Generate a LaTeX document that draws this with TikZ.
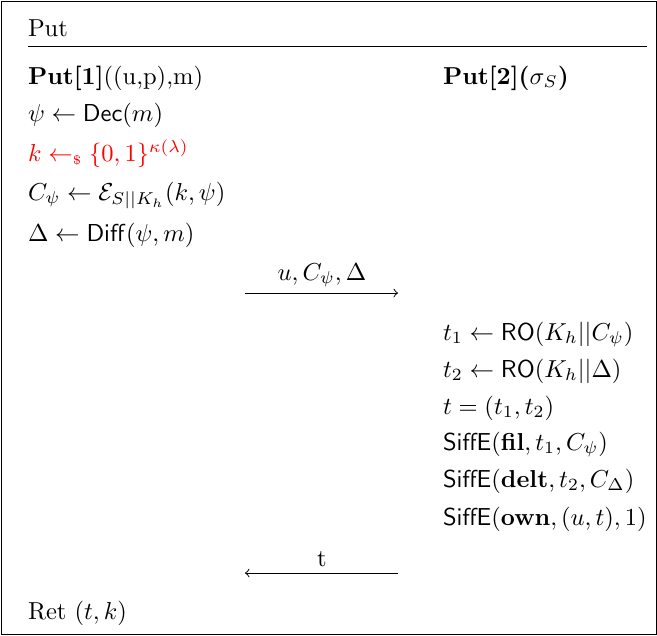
\documentclass[tikz,border=0pt]{standalone}
\usepackage{amsmath,amssymb}
\usepackage{xcolor}
\begin{document}
\begin{tikzpicture}[x=0.408pt,y=-0.408pt,
  txt/.style={anchor=base west,inner sep=0pt,outer sep=0pt},
  lbl/.style={anchor=base,inner sep=0pt,outer sep=0pt},
  msg/.style={-to,line width=0.4pt}]
\useasboundingbox (0,0) rectangle (657,635);
\draw[line width=0.4pt] (1,1) rectangle (656,634);
\node[txt] (title) at (28,36) {Put};
\coordinate (hl) at (28,46);
\coordinate (hr) at (647,46);
\draw[line width=0.4pt] (hl) -- (hr);
\node[txt] (a1) at (28,84) {\textbf{Put[1]}((u,p),m)};
\node[txt] (b1) at (443,84) {\textbf{Put[2](}$\sigma_S$\textbf{)}};
\node[txt] (a2) at (28,121) {$\psi \leftarrow \mathsf{Dec}(m)$};
\node[txt,text=red] (a3) at (28,161) {$k \leftarrow_{\scriptscriptstyle\$} \{0,1\}^{\kappa(\lambda)}$};
\node[txt] (a4) at (28,200) {$C_\psi \leftarrow \mathcal{E}_{S||K_h}(k,\psi)$};
\node[txt] (a5) at (28,241) {$\Delta \leftarrow \mathsf{Diff}(\psi,m)$};
\coordinate (m1l) at (245,293);
\coordinate (m1r) at (398,293);
\draw[msg] (m1l) -- (m1r);
\node[lbl] (m1) at (322,280) {$u, C_\psi, \Delta$};
\node[txt] (b2) at (443,340) {$t_1 \leftarrow \mathsf{RO}(K_h||C_\psi)$};
\node[txt] (b3) at (443,377) {$t_2 \leftarrow \mathsf{RO}(K_h||\Delta)$};
\node[txt] (b4) at (443,414) {$t=(t_1,t_2)$};
\node[txt] (b5) at (443,450) {$\mathsf{SiffE}(\mathbf{fil},t_1,C_\psi)$};
\node[txt] (b6) at (443,487) {$\mathsf{SiffE}(\mathbf{delt},t_2,C_\Delta)$};
\node[txt] (b7) at (443,525) {$\mathsf{SiffE}(\mathbf{own},(u,t),1)$};
\coordinate (m2l) at (245,573);
\coordinate (m2r) at (398,573);
\draw[msg] (m2r) -- (m2l);
\node[lbl] (m2) at (322,566) {t};
\node[txt] (a6) at (28,619) {Ret $(t,k)$};
\end{tikzpicture}
\end{document}
